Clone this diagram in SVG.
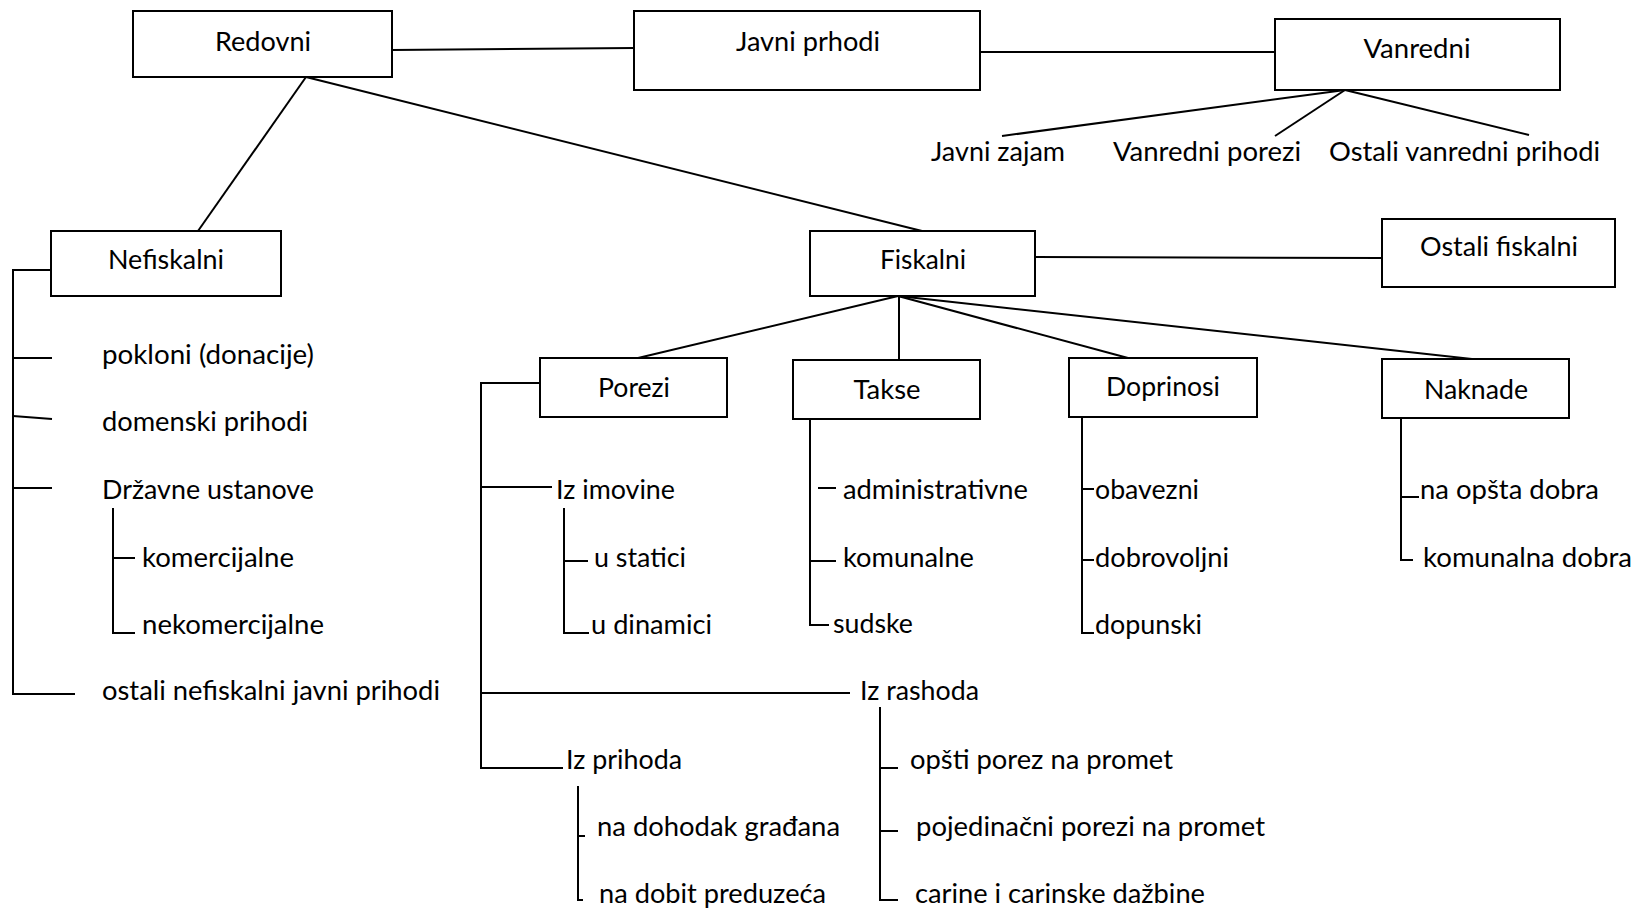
<svg xmlns="http://www.w3.org/2000/svg" width="1634" height="908" viewBox="0 0 1634 908">
<style>
  .box { fill: #ffffff; stroke: #000000; stroke-width: 2; }
  .ln { fill: none; stroke: #000000; stroke-width: 2; stroke-linecap: butt; stroke-linejoin: miter; }
  text { font-family: Lato, "Open Sans", "Liberation Sans", sans-serif; font-size: 26.5px; fill: #000000; }
  .c { text-anchor: middle; }
</style>
<rect x="0" y="0" width="1634" height="908" fill="#ffffff"/>
<g id="connectors">
  <path class="ln" d="M392 50 L634 48"/>
  <path class="ln" d="M980 52 L1275 52"/>
  <path class="ln" d="M306 77 L198 231"/>
  <path class="ln" d="M306 77 L922 231"/>
  <path class="ln" d="M1345 90 L1002 136"/>
  <path class="ln" d="M1345 90 L1275 136"/>
  <path class="ln" d="M1345 90 L1529 135"/>
  <path class="ln" d="M1035 257 L1382 258"/>
  <path class="ln" d="M898 296 L638 358"/>
  <path class="ln" d="M899 296 L899 360"/>
  <path class="ln" d="M898 296 L1128 358"/>
  <path class="ln" d="M898 296 L1472 359"/>
  <!-- Nefiskalni bracket -->
  <path class="ln" d="M51 270 L13 270 L13 694 L75 694"/>
  <path class="ln" d="M13 358 L52 358"/>
  <path class="ln" d="M13 416 L52 419"/>
  <path class="ln" d="M13 488 L52 488"/>
  <path class="ln" d="M113 508 L113 633 L135 633"/>
  <path class="ln" d="M113 558 L135 558"/>
  <!-- Porezi bracket -->
  <path class="ln" d="M540 383 L481 383 L481 768 L563 768"/>
  <path class="ln" d="M481 487 L552 487"/>
  <path class="ln" d="M481 693 L850 693"/>
  <path class="ln" d="M564 508 L564 633 L589 633"/>
  <path class="ln" d="M564 561 L588 561"/>
  <path class="ln" d="M578 786 L578 900 L583 900"/>
  <path class="ln" d="M578 836 L585 836"/>
  <path class="ln" d="M880 707 L880 900 L898 900"/>
  <path class="ln" d="M880 768 L898 768"/>
  <path class="ln" d="M880 831 L898 831"/>
  <!-- Takse bracket -->
  <path class="ln" d="M810 419 L810 625 L829 625"/>
  <path class="ln" d="M810 561 L836 561"/>
  <path class="ln" d="M818 488 L836 488"/>
  <!-- Doprinosi bracket -->
  <path class="ln" d="M1082 417 L1082 633 L1094 633"/>
  <path class="ln" d="M1082 489 L1094 489"/>
  <path class="ln" d="M1082 560 L1094 560"/>
  <!-- Naknade bracket -->
  <path class="ln" d="M1401 418 L1401 560 L1413 560"/>
  <path class="ln" d="M1401 497 L1419 497"/>
</g>
<g id="redovni"><rect class="box" x="133" y="11" width="259" height="66"/><text class="c" x="263" y="51" textLength="96" lengthAdjust="spacingAndGlyphs">Redovni</text></g>
<g id="javni-prihodi"><rect class="box" x="634" y="11" width="346" height="79"/><text class="c" x="808" y="51" textLength="144" lengthAdjust="spacingAndGlyphs">Javni prhodi</text></g>
<g id="vanredni"><rect class="box" x="1275" y="19" width="285" height="71"/><text class="c" x="1417" y="58" textLength="107" lengthAdjust="spacingAndGlyphs">Vanredni</text></g>
<g id="javni-zajam"><text x="931" y="161" textLength="134" lengthAdjust="spacingAndGlyphs">Javni zajam</text></g>
<g id="vanredni-porezi"><text x="1113" y="161" textLength="188" lengthAdjust="spacingAndGlyphs">Vanredni porezi</text></g>
<g id="ostali-vanredni"><text x="1329" y="161" textLength="271" lengthAdjust="spacingAndGlyphs">Ostali vanredni prihodi</text></g>
<g id="nefiskalni"><rect class="box" x="51" y="231" width="230" height="65"/><text class="c" x="166" y="269" textLength="116" lengthAdjust="spacingAndGlyphs">Nefiskalni</text></g>
<g id="fiskalni"><rect class="box" x="810" y="231" width="225" height="65"/><text class="c" x="923" y="269" textLength="86" lengthAdjust="spacingAndGlyphs">Fiskalni</text></g>
<g id="ostali-fiskalni"><rect class="box" x="1382" y="219" width="233" height="68"/><text class="c" x="1499" y="256" textLength="158" lengthAdjust="spacingAndGlyphs">Ostali fiskalni</text></g>
<g id="nefiskalni-items">
  <text x="102" y="364" textLength="212" lengthAdjust="spacingAndGlyphs">pokloni (donacije)</text>
  <text x="102" y="431" textLength="206" lengthAdjust="spacingAndGlyphs">domenski prihodi</text>
  <text x="102" y="499" textLength="212" lengthAdjust="spacingAndGlyphs">Državne ustanove</text>
  <text x="142" y="567" textLength="152" lengthAdjust="spacingAndGlyphs">komercijalne</text>
  <text x="142" y="634" textLength="182" lengthAdjust="spacingAndGlyphs">nekomercijalne</text>
  <text x="102" y="700" textLength="338" lengthAdjust="spacingAndGlyphs">ostali nefiskalni javni prihodi</text>
</g>
<g id="porezi"><rect class="box" x="540" y="358" width="187" height="59"/><text class="c" x="634" y="397" textLength="72" lengthAdjust="spacingAndGlyphs">Porezi</text></g>
<g id="takse"><rect class="box" x="793" y="360" width="187" height="59"/><text class="c" x="887" y="399" textLength="67" lengthAdjust="spacingAndGlyphs">Takse</text></g>
<g id="doprinosi"><rect class="box" x="1069" y="358" width="188" height="59"/><text class="c" x="1163" y="396" textLength="114" lengthAdjust="spacingAndGlyphs">Doprinosi</text></g>
<g id="naknade"><rect class="box" x="1382" y="359" width="187" height="59"/><text class="c" x="1476" y="399" textLength="104" lengthAdjust="spacingAndGlyphs">Naknade</text></g>
<g id="porezi-items">
  <text x="556" y="499" textLength="119" lengthAdjust="spacingAndGlyphs">Iz imovine</text>
  <text x="594" y="567" textLength="92" lengthAdjust="spacingAndGlyphs">u statici</text>
  <text x="591" y="634" textLength="121" lengthAdjust="spacingAndGlyphs">u dinamici</text>
  <text x="860" y="700" textLength="119" lengthAdjust="spacingAndGlyphs">Iz rashoda</text>
  <text x="566" y="769" textLength="116" lengthAdjust="spacingAndGlyphs">Iz prihoda</text>
  <text x="597" y="836" textLength="243" lengthAdjust="spacingAndGlyphs">na dohodak građana</text>
  <text x="599" y="903" textLength="227" lengthAdjust="spacingAndGlyphs">na dobit preduzeća</text>
  <text x="910" y="769" textLength="263" lengthAdjust="spacingAndGlyphs">opšti porez na promet</text>
  <text x="916" y="836" textLength="349" lengthAdjust="spacingAndGlyphs">pojedinačni porezi na promet</text>
  <text x="915" y="903" textLength="290" lengthAdjust="spacingAndGlyphs">carine i carinske dažbine</text>
</g>
<g id="takse-items">
  <text x="843" y="499" textLength="185" lengthAdjust="spacingAndGlyphs">administrativne</text>
  <text x="843" y="567" textLength="131" lengthAdjust="spacingAndGlyphs">komunalne</text>
  <text x="833" y="633" textLength="80" lengthAdjust="spacingAndGlyphs">sudske</text>
</g>
<g id="doprinosi-items">
  <text x="1095" y="499" textLength="104" lengthAdjust="spacingAndGlyphs">obavezni</text>
  <text x="1095" y="567" textLength="134" lengthAdjust="spacingAndGlyphs">dobrovoljni</text>
  <text x="1095" y="634" textLength="107" lengthAdjust="spacingAndGlyphs">dopunski</text>
</g>
<g id="naknade-items">
  <text x="1420" y="499" textLength="179" lengthAdjust="spacingAndGlyphs">na opšta dobra</text>
  <text x="1423" y="567" textLength="209" lengthAdjust="spacingAndGlyphs">komunalna dobra</text>
</g>
</svg>
